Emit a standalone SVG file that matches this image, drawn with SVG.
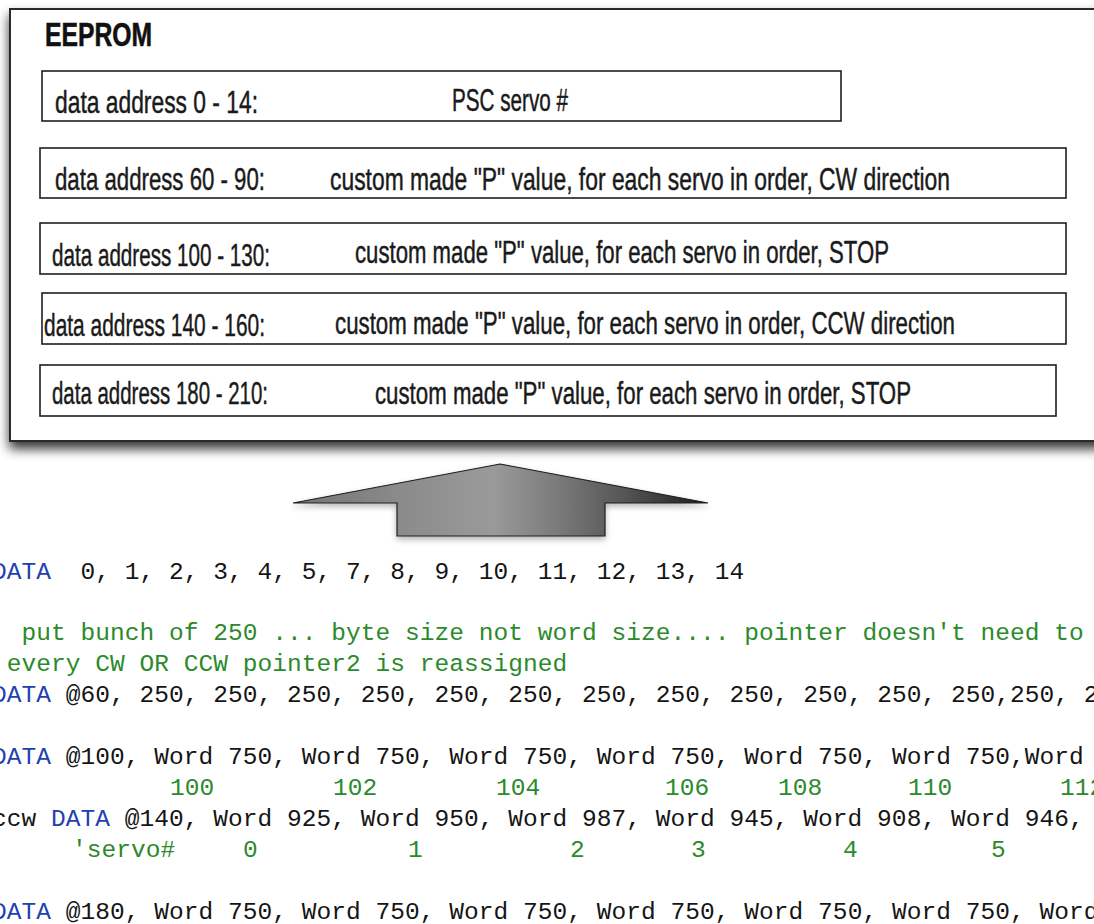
<svg xmlns="http://www.w3.org/2000/svg" width="1094" height="924" viewBox="0 0 1094 924">
  <defs>
    <filter id="boxShadow" x="-5%" y="-5%" width="115%" height="125%">
      <feGaussianBlur in="SourceAlpha" stdDeviation="6"/>
      <feOffset dx="0" dy="7" result="blur"/>
      <feComponentTransfer><feFuncA type="linear" slope="0.8"/></feComponentTransfer>
      <feMerge><feMergeNode/><feMergeNode in="SourceGraphic"/></feMerge>
    </filter>
    <filter id="arrowShadow" x="-10%" y="-20%" width="120%" height="160%">
      <feGaussianBlur in="SourceAlpha" stdDeviation="3"/>
      <feOffset dx="0" dy="3"/>
      <feComponentTransfer><feFuncA type="linear" slope="0.3"/></feComponentTransfer>
      <feMerge><feMergeNode/><feMergeNode in="SourceGraphic"/></feMerge>
    </filter>
    <linearGradient id="arrowFill" gradientUnits="userSpaceOnUse" x1="293" y1="0" x2="708" y2="0">
      <stop offset="0" stop-color="#747474"/>
      <stop offset="0.25" stop-color="#8a8a8a"/>
      <stop offset="0.48" stop-color="#9a9a9a"/>
      <stop offset="0.62" stop-color="#7e7e7e"/>
      <stop offset="0.8" stop-color="#555555"/>
      <stop offset="1" stop-color="#1c1c1c"/>
    </linearGradient>
    <style>
      .frame { fill: #ffffff; stroke: #2a2a2a; stroke-width: 2; }
      .slot { fill: #ffffff; stroke: #1e1e1e; stroke-width: 1.6; }
      .title { font-family: "Liberation Sans", Arial, sans-serif; font-weight: bold; font-size: 34px; fill: #111; stroke: #111; stroke-width: 0.6; }
      .lbl { font-family: "Liberation Sans", Arial, sans-serif; font-size: 31px; fill: #1a1a1a; stroke: #1a1a1a; stroke-width: 0.45; }
      .code { font-family: "Liberation Mono", "DejaVu Sans Mono", monospace; font-size: 24.5px; letter-spacing: 0.05px; fill: #151515; white-space: pre; }
      .kw { fill: #2240b0; }
      .cm { fill: #2b8a2b; }
    </style>
  </defs>

  <rect x="0" y="0" width="1094" height="924" fill="#ffffff"/>

  <!-- EEPROM memory map -->
  <g id="eeprom">
    <rect class="frame" x="10" y="9" width="1100" height="432" filter="url(#boxShadow)"/>
    <text class="title" x="45" y="46" textLength="107" lengthAdjust="spacingAndGlyphs">EEPROM</text>
  </g>

  <g id="addr-0-14">
    <rect class="slot" x="42" y="71" width="799" height="50"/>
    <text class="lbl" x="55" y="113" textLength="203" lengthAdjust="spacingAndGlyphs">data address 0 - 14:</text>
    <text class="lbl" x="452" y="111" textLength="116" lengthAdjust="spacingAndGlyphs">PSC servo #</text>
  </g>

  <g id="addr-60-90">
    <rect class="slot" x="40" y="148" width="1026" height="50"/>
    <text class="lbl" x="55" y="190" textLength="210" lengthAdjust="spacingAndGlyphs">data address 60 - 90:</text>
    <text class="lbl" x="330" y="190" textLength="620" lengthAdjust="spacingAndGlyphs">custom made "P" value, for each servo in order, CW direction</text>
  </g>

  <g id="addr-100-130">
    <rect class="slot" x="40" y="223" width="1026" height="51"/>
    <text class="lbl" x="52" y="266" textLength="218" lengthAdjust="spacingAndGlyphs">data address 100 - 130:</text>
    <text class="lbl" x="355" y="263" textLength="534" lengthAdjust="spacingAndGlyphs">custom made "P" value, for each servo in order, STOP</text>
  </g>

  <g id="addr-140-160">
    <rect class="slot" x="42" y="293" width="1024" height="51"/>
    <text class="lbl" x="44" y="336" textLength="221" lengthAdjust="spacingAndGlyphs">data address 140 - 160:</text>
    <text class="lbl" x="335" y="334" textLength="620" lengthAdjust="spacingAndGlyphs">custom made "P" value, for each servo in order, CCW direction</text>
  </g>

  <g id="addr-180-210">
    <rect class="slot" x="40" y="365" width="1016" height="51"/>
    <text class="lbl" x="52" y="404" textLength="216" lengthAdjust="spacingAndGlyphs">data address 180 - 210:</text>
    <text class="lbl" x="375" y="404" textLength="536" lengthAdjust="spacingAndGlyphs">custom made "P" value, for each servo in order, STOP</text>
  </g>

  <!-- upward transfer arrow from code listing into EEPROM -->
  <g id="connectors">
    <path d="M500,464 L708,503 L605,503 L605,536 L397,536 L397,503 L293,503 Z" fill="url(#arrowFill)" stroke="#1e1e1e" stroke-width="1.2" stroke-linejoin="miter" filter="url(#arrowShadow)"/>
  </g>

  <!-- PBASIC listing -->
  <g id="code">
    <text class="code" y="579"><tspan class="kw" x="-8">DATA</tspan><tspan x="80.5">0, 1, 2, 3, 4, 5, 7, 8, 9, 10, 11, 12, 13, 14</tspan></text>
    <text class="code cm" x="21.5" y="640">put bunch of 250 ... byte size not word size.... pointer doesn't need to</text>
    <text class="code cm" x="6.75" y="671">every CW OR CCW pointer2 is reassigned</text>
    <text class="code" y="702"><tspan class="kw" x="-8">DATA</tspan><tspan x="65.75">@60, 250, 250, 250, 250, 250, 250, 250, 250, 250, 250, 250, 250,250, 2</tspan></text>
    <text class="code" y="764"><tspan class="kw" x="-8">DATA</tspan><tspan x="65.75">@100, Word 750, Word 750, Word 750, Word 750, Word 750, Word 750,Word</tspan></text>
    <text class="code cm" y="795"><tspan x="170">100</tspan><tspan x="333">102</tspan><tspan x="496">104</tspan><tspan x="665">106</tspan><tspan x="778">108</tspan><tspan x="908">110</tspan><tspan x="1060">112</tspan></text>
    <text class="code" y="826"><tspan x="-8">ccw</tspan><tspan class="kw" x="51">DATA</tspan><tspan x="124.75">@140, Word 925, Word 950, Word 987, Word 945, Word 908, Word 946,</tspan></text>
    <text class="code cm" y="857"><tspan x="72">'servo#</tspan><tspan x="243">0</tspan><tspan x="408">1</tspan><tspan x="570">2</tspan><tspan x="691">3</tspan><tspan x="843">4</tspan><tspan x="991">5</tspan></text>
    <text class="code" y="919"><tspan class="kw" x="-8">DATA</tspan><tspan x="65.75">@180, Word 750, Word 750, Word 750, Word 750, Word 750, Word 750, Word</tspan></text>
  </g>
</svg>
